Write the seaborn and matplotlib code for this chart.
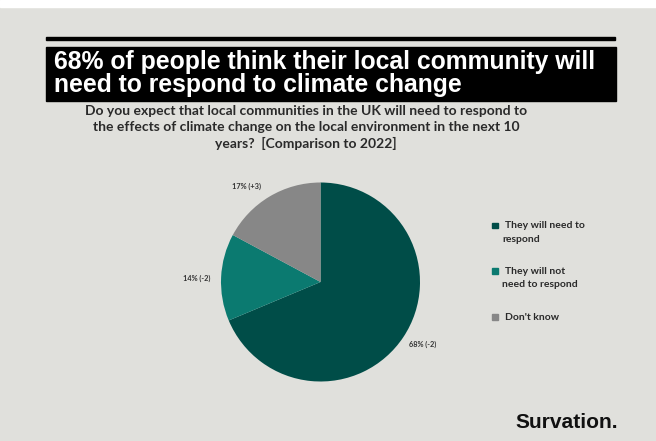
import matplotlib
matplotlib.use("Agg")
import matplotlib.pyplot as plt
import seaborn as sns

categories = ["They will need to\nrespond", "They will not\nneed to respond", "Don't know"]
values = [68, 14, 17]
changes = ["-2", "-2", "+3"]
title = "68% of people think their local community will\nneed to respond to climate change"
subtitle = ("Do you expect that local communities in the UK will need to respond to\n"
            "the effects of climate change on the local environment in the next 10\n"
            "years?  [Comparison to 2022]")
brand = "Survation."

sns.set_theme(style="white")
plt.rcParams["font.family"] = ["Lato", "DejaVu Sans"]

colors = sns.color_palette(["#004d48", "#0b7a70", "#878787"])
bg = "#e0e0dc"
text_col = "#2a2a2a"

W, H = 656, 441
fig = plt.figure(figsize=(W / 100, H / 100), dpi=100)
fig.patch.set_facecolor(bg)

def fx(x): return x / W
def fy(y): return 1 - y / H

# white strip at top
fig.add_artist(plt.Rectangle((0, fy(7)), 1, 7 / H, transform=fig.transFigure, color="white", zorder=0))
# black rule
fig.add_artist(plt.Rectangle((fx(46), fy(39.5)), fx(615) - fx(46), 3 / H, transform=fig.transFigure, color="black"))
# title box
fig.add_artist(plt.Rectangle((fx(46), fy(101)), fx(616) - fx(46), 54 / H, transform=fig.transFigure, color="black"))
for i, line in enumerate(title.split("\n")):
    fig.text(fx(54), fy(69 + 23 * i), line, color="white", fontsize=17.8, fontweight="bold",
             family=["Liberation Sans", "DejaVu Sans"], va="baseline", ha="left")
for i, line in enumerate(subtitle.split("\n")):
    fig.text(fx(306), fy(115 + 16.5 * i), line, color=text_col, fontsize=10, fontweight="bold",
             va="baseline", ha="center")

# pie
cx, cy, r = 320.5, 282, 99.5
ax = fig.add_axes([fx(cx - r), fy(cy + r), 2 * r / W, 2 * r / H])
wedges, _ = ax.pie(values, colors=colors, startangle=90, counterclock=False,
                   wedgeprops=dict(linewidth=0))
ax.set_xlim(-1, 1)
ax.set_ylim(-1, 1)
ax.set_aspect("auto")
ax.axis("off")

label_pos = [(423, 344), (197, 278), (247, 186)]
for (lx, ly), v, c in zip(label_pos, values, changes):
    fig.text(fx(lx), fy(ly), f"{v}% ({c})", fontsize=5.3, fontweight="bold",
             color="#333333", ha="center", va="center", zorder=5)

# legend
leg_y = [225.5, 271, 317]
for yy, lab, col in zip(leg_y, categories, colors):
    fig.add_artist(plt.Rectangle((fx(492), fy(yy + 2.5)), 5.5 / W, 5.5 / H,
                                 transform=fig.transFigure, color=col))
    for j, line in enumerate(lab.split("\n")):
        fig.text(fx(505 if j == 0 else 502), fy(yy + 3 + 13 * j), line, fontsize=7.5,
                 fontweight="bold", color=text_col, ha="left", va="baseline")

fig.text(fx(566.5), fy(428), brand, fontsize=15.1, fontweight="bold", color="#111111",
         family=["Liberation Sans", "DejaVu Sans"], ha="center", va="baseline")

fig.savefig("out.png", dpi=100, facecolor=bg)
